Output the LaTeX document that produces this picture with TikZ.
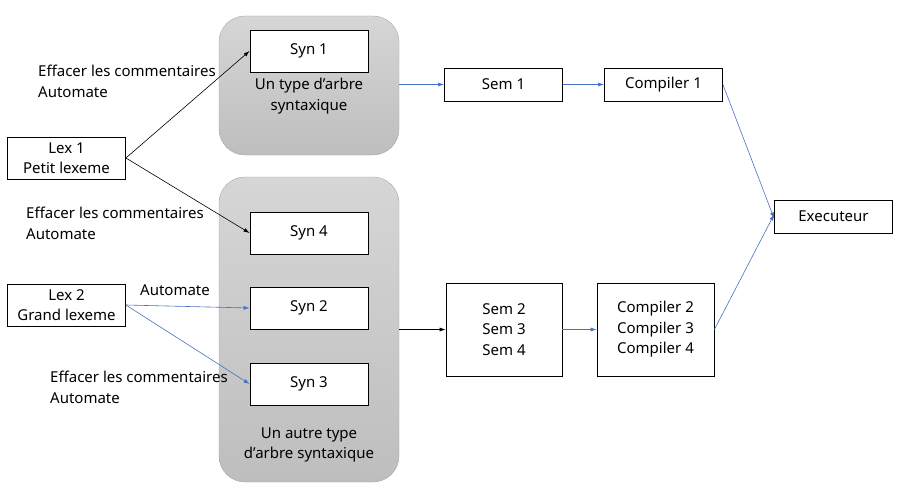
\documentclass[tikz,border=0pt]{standalone}
\usepackage{fontspec}
\setmainfont{Noto Sans}
\usetikzlibrary{arrows.meta}
\definecolor{lineblue}{RGB}{68,114,196}
\definecolor{grouptop}{RGB}{214,214,214}
\definecolor{groupbot}{RGB}{190,190,190}
\tikzset{
  box/.style={draw,thick,fill=white,minimum width=118pt,minimum height=42pt,align=center,inner sep=0pt},
  group/.style={draw=gray!70,rounded corners=26pt,top color=grouptop,bottom color=groupbot,minimum width=180pt},
  lbl/.style={anchor=north west,align=left,inner sep=0pt},
  arr/.style={-{Latex[length=6pt,width=4pt]},line width=0.6pt},
}
\begin{document}
\begin{tikzpicture}[x=1pt,y=-1pt,font=\fontsize{15}{20.5}\selectfont]
      \useasboundingbox (0,0) rectangle (907,495);
      % groupes
      \node[group,minimum height=139pt] (G1) at (309,85.5) {};
      \node[group,minimum height=305pt] (G2) at (309,329.5) {};
      \node (G1txt) at (309,96) [align=center] {Un type d'arbre\\syntaxique};
      \node (G2txt) at (309,445) [align=center] {Un autre type\\d'arbre syntaxique};
      % boites
      \node[box] (Lex1) at (66.5,158) {Lex 1\\Petit lexeme};
      \node[box] (Lex2) at (66.5,305) {Lex 2\\Grand lexeme};
      \node[box] (Syn1) at (309,51) {Syn 1};
      \node[box] (Syn4) at (309,233) {Syn 4};
      \node[box] (Syn2) at (309,308) {Syn 2};
      \node[box] (Syn3) at (309,384) {Syn 3};
      \node[box,minimum height=33pt] (Sem1) at (503.5,84.5) {Sem 1};
      \node[box,minimum height=33pt] (Comp1) at (663.5,84.5) {Compiler 1};
      \node[box,minimum width=116pt,minimum height=93pt] (Sem234) at (504,329.5) {Sem 2\\Sem 3\\Sem 4};
      \node[box,minimum width=117pt,minimum height=93pt] (Comp234) at (655.5,329.5) {Compiler 2\\Compiler 3\\Compiler 4};
      \node[box,minimum height=33pt] (Exec) at (833.5,216.5) {Executeur};
      % etiquettes
      \node[lbl] (L1) at (38,65) {Effacer les commentaires\\Automate};
      \node[lbl] (L2) at (26,207) {Effacer les commentaires\\Automate};
      \node[lbl] (L3) at (50,371) {Effacer les commentaires\\Automate};
      \node[lbl] (L4) at (140,285) {Automate};
      % fleches
      \draw[arr] (Lex1.east) -- (Syn1.west);
      \draw[arr] (Lex1.east) -- (Syn4.west);
      \draw[arr,lineblue] (Lex2.east) -- (Syn2.west);
      \draw[arr,lineblue] (Lex2.east) -- (Syn3.west);
      \draw[arr,lineblue] (G1.east |- Sem1) -- (Sem1.west);
      \draw[arr,lineblue] (Sem1.east) -- (Comp1.west);
      \draw[arr] (G2.east |- Sem234) -- (Sem234.west);
      \draw[arr,lineblue] (Sem234.east) -- (Comp234.west);
      \draw[arr,lineblue] (Comp1.east) -- ([yshift=-2pt]Exec.west);
      \draw[arr,lineblue] (Comp234.east) -- ([yshift=2pt]Exec.west);
\end{tikzpicture}
\end{document}
